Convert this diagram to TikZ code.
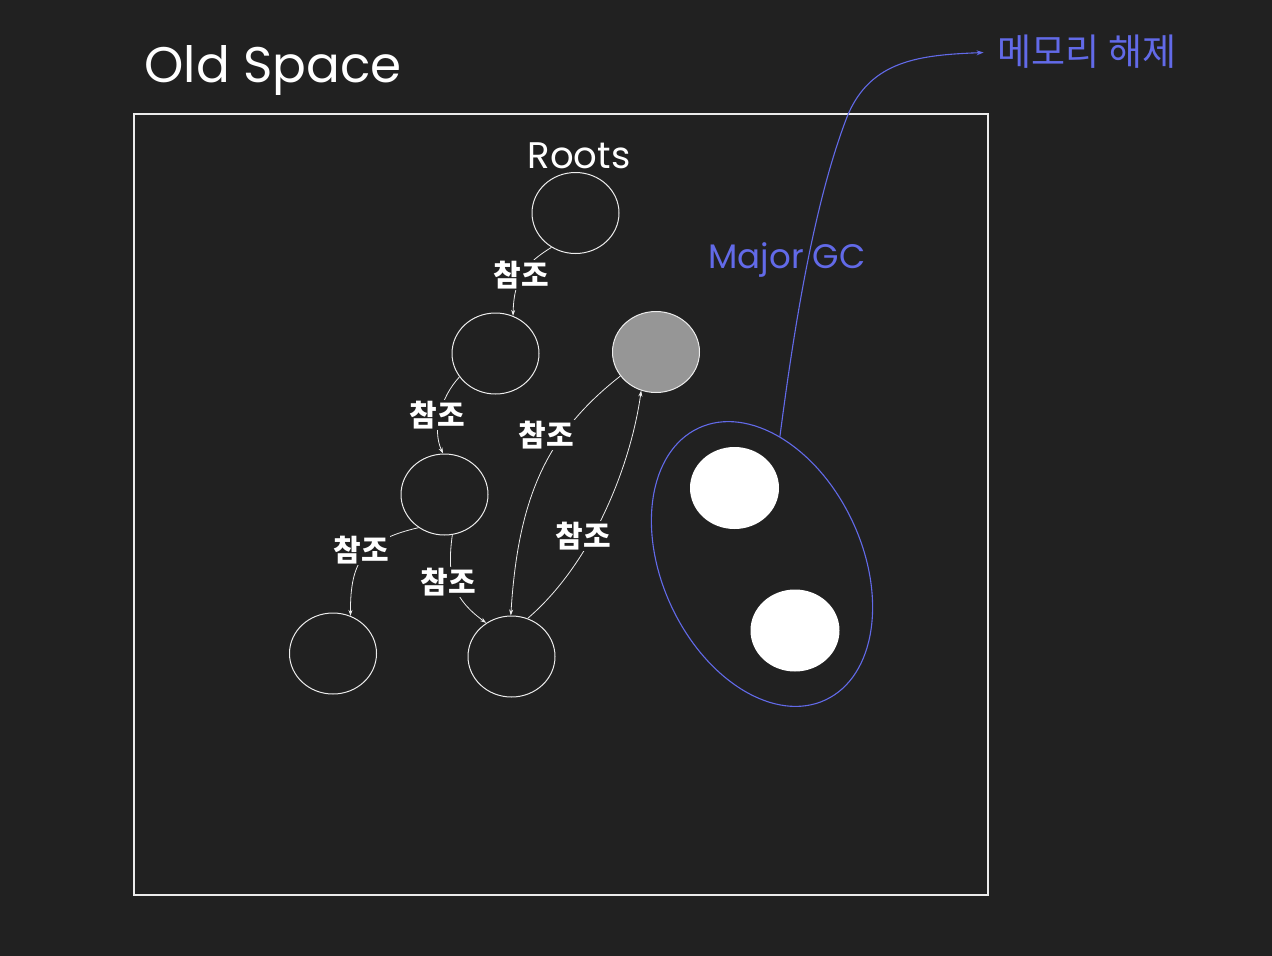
\documentclass[tikz,border=0pt]{standalone}
\usepackage{fontspec}
\setmainfont{Poppins}
\newfontfamily\kr{Noto Sans CJK KR}
\usetikzlibrary{arrows.meta,shapes.geometric}
\definecolor{bg}{RGB}{33,33,33}
\definecolor{ink}{RGB}{236,236,236}
\definecolor{blu}{RGB}{98,106,232}
\definecolor{gry}{RGB}{150,150,150}
\begin{document}
\begin{tikzpicture}[x=1pt,y=-1pt,
  obj/.style={ellipse, draw=ink, line width=1pt, inner sep=0pt, minimum width=87pt, minimum height=81pt},
  solid obj/.style={ellipse, fill=white, inner sep=0pt, minimum width=89pt, minimum height=82pt},
  ref/.style={draw=ink, line width=0.8pt, -{Stealth[length=6pt,width=4pt]}},
  lbl/.style={fill=bg, text=white, inner sep=1pt, font=\kr\bfseries\fontsize{30}{30}\selectfont},
  hand/.style={text=white, inner sep=0pt},
]
\fill[bg] (0,0) rectangle (1272,956);
\useasboundingbox (0,0) rectangle (1272,956);

% title and frame
\node[hand, font=\fontsize{50}{50}\selectfont] (title) at (273,70) {Old Space};
\node[draw=ink, line width=1.1pt, minimum width=854pt, minimum height=781pt, inner sep=0pt] (frame) at (561,504.5) {};

% roots
\node[hand, font=\fontsize{37}{37}\selectfont] (rootslbl) at (579,156) {Roots};
\node[obj] (root) at (575.5,213) {};
\node[obj] (A) at (495.5,353.5) {};
\node[obj, fill=gry] (G) at (656,352) {};
\node[obj] (B) at (444.5,494.5) {};
\node[obj] (C) at (333,653.5) {};
\node[obj] (D) at (511.5,656.5) {};

% references
\draw[ref] (root.235) .. controls (528,262) and (514,275) .. (A.65);
\draw[ref] (A.213) .. controls (440,398) and (432,430) .. (B.92);
\draw[ref] (B.232) .. controls (365,540) and (350,560) .. (C.65);
\draw[ref] (B.281) .. controls (446,580) and (455,600) .. (D.127);
\draw[ref] (G.214) .. controls (545,435) and (518,500) .. (D.91);
\draw[ref] (D.67) .. controls (590,565) and (630,470) .. (G.249);

\node[lbl] (l1) at (521,275) {참조};
\node[lbl] (l2) at (437,415) {참조};
\node[lbl] (l3) at (361,550) {참조};
\node[lbl] (l4) at (448,582) {참조};
\node[lbl] (l5) at (546,435) {참조};
\node[lbl] (l6) at (583,536) {참조};

% major GC group
\node[ellipse, draw=blu, line width=1.1pt, inner sep=0pt, minimum width=200pt, minimum height=300pt, rotate=25] (E) at (762,564) {};
\node[solid obj] (W1) at (734.5,488) {};
\node[solid obj] (W2) at (795,630.5) {};

\node[text=blu, inner sep=0pt, font=\fontsize{34}{34}\selectfont] (gc) at (787,260) {Major GC};
\node[text=blu, inner sep=0pt, font=\kr\fontsize{37}{37}\selectfont] (free) at (1087,52) {메모리 해제};

\draw[blu, line width=1.1pt, -{Stealth[length=7pt,width=5pt]}, shorten >=14pt]
  (E.57) .. controls (795,320) and (815,200) .. (847,117)
         .. controls (870,60) and (920,55) .. (free.west);
\end{tikzpicture}
\end{document}
